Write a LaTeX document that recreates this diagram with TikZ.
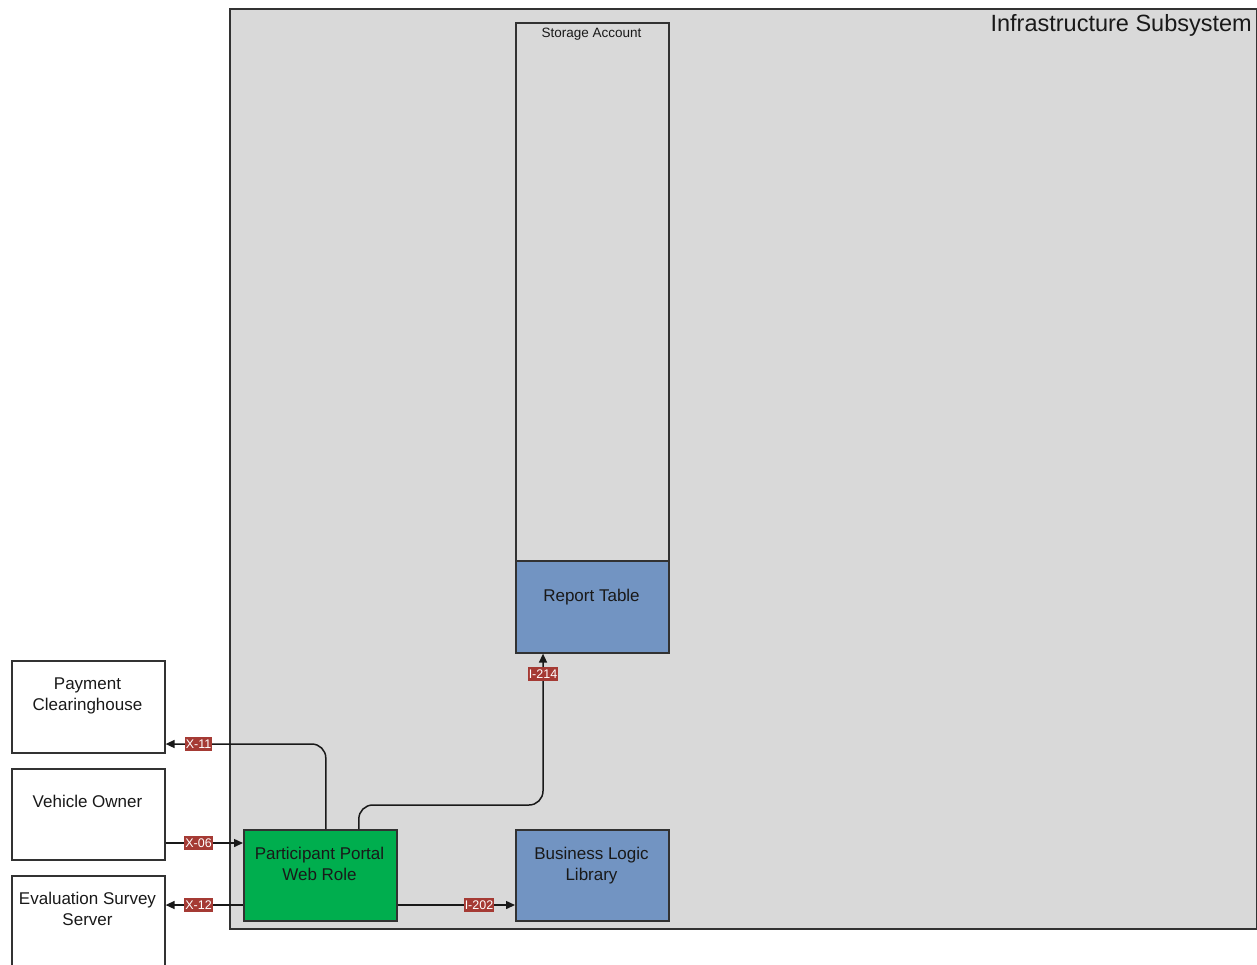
\documentclass[tikz,border=0pt]{standalone}
\usepackage{fontspec}
\setmainfont{Liberation Sans}
\usetikzlibrary{arrows.meta}
\definecolor{panelgray}{RGB}{217,217,217}
\definecolor{edgegray}{RGB}{50,50,50}
\definecolor{rolegreen}{RGB}{0,174,78}
\definecolor{tableblue}{RGB}{114,148,194}
\definecolor{tagred}{RGB}{165,58,52}
\tikzset{
  box/.style={draw=edgegray, line width=1.6pt, anchor=north west, inner sep=0pt,
    minimum width=153pt, minimum height=91pt},
  boxtext/.style={anchor=north, align=center, inner sep=0pt, text=black!90,
    font=\fontsize{17}{21}\selectfont},
  conn/.style={draw=black!90, line width=1.5pt, rounded corners=14pt},
  tip/.style={-{Triangle[length=9pt,width=8pt]}},
  tag/.style={fill=tagred, text=white, inner xsep=1.2pt, inner ysep=0pt,
    minimum height=14pt, font=\fontsize{12.5}{14}\selectfont}
}
\begin{document}
\begin{tikzpicture}[x=1pt,y=-1pt]
\useasboundingbox (0,0) rectangle (1257,964);
\clip (0,0) rectangle (1257,964);

% subsystem panel
\node[box, fill=panelgray, minimum width=1027pt, minimum height=920pt] (infra) at (229,8) {};
\node[anchor=base east, inner sep=0pt, font=\fontsize{23.5}{28}\selectfont, text=black!90]
  (infratitle) at (1252,31) {Infrastructure Subsystem};

% storage account with its table
\node[box, minimum height=630pt] (store) at (515,22) {};
\node[anchor=base, inner sep=0pt, font=\fontsize{13.5}{16}\selectfont, text=black!90]
  (storetitle) at (591.5,37) {Storage Account};
\node[box, fill=tableblue, minimum height=92pt] (report) at (515,560) {};
\node[boxtext] (reporttext) at (591.5,589) {Report Table};

% roles inside the subsystem
\node[box, fill=rolegreen] (portal) at (243,829) {};
\node[boxtext] (portaltext) at (319.5,846.5) {Participant Portal\\Web Role};
\node[box, fill=tableblue] (bll) at (515,829) {};
\node[boxtext] (blltext) at (591.5,846.5) {Business Logic\\Library};

% external parties
\node[box, fill=white, minimum height=92pt] (pay) at (11,660) {};
\node[boxtext] (paytext) at (87.5,677.5) {Payment\\Clearinghouse};
\node[box, fill=white] (veh) at (11,768) {};
\node[boxtext] (vehtext) at (87.5,794.5) {Vehicle Owner};
\node[box, fill=white, minimum height=110pt] (eval) at (11,875) {};
\node[boxtext] (evaltext) at (87.5,891.5) {Evaluation Survey\\Server};

% interfaces
\coordinate (bend214) at (543,805);
\draw[conn, tip] ([xshift=5.5pt]portal.north) |- (pay.east |- 0,744);
\node[tag] (x11) at (198.5,744) {X-11};

\draw[conn, tip] (veh.east |- 0,843) -- (portal.west |- 0,843);
\node[tag] (x06) at (198.5,843) {X-06};

\draw[conn, tip] (portal.west |- 0,905) -- (eval.east |- 0,905);
\node[tag] (x12) at (198.5,905) {X-12};

\draw[conn, tip] (portal.east |- 0,905) -- (bll.west |- 0,905);
\node[tag] (i202) at (479,905) {I-202};

\draw[conn, tip] ([xshift=38.5pt]portal.north) |- (bend214) -- (report.south -| bend214);
\node[tag] (i214) at (543,674) {I-214};
\end{tikzpicture}
\end{document}
